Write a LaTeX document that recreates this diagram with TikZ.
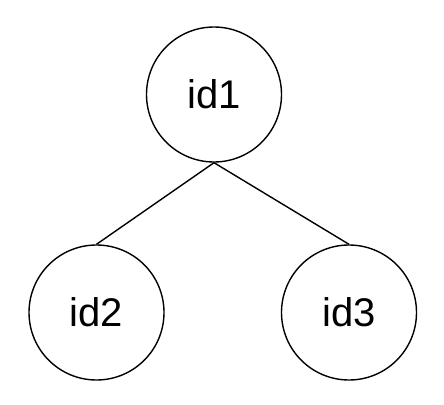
\documentclass[tikz,border=0pt]{standalone}
\usepackage{fontspec}
\setmainfont{Liberation Sans}
\begin{document}
\begin{tikzpicture}[x=1pt,y=-1pt,
  treenode/.style={circle,draw,line width=1.4pt,minimum size=135pt,inner sep=0pt,font=\fontsize{40}{48}\selectfont},
  edge/.style={line width=1.4pt}]
\useasboundingbox (0,0) rectangle (444,404);
\node[treenode] (id1) at (214,94.5) {id1};
\node[treenode] (id2) at (96.5,312.5) {id2};
\node[treenode] (id3) at (349,312.5) {id3};
\draw[edge] (id1.south) -- (id2.north);
\draw[edge] (id1.south) -- (id3.north);
\end{tikzpicture}
\end{document}
